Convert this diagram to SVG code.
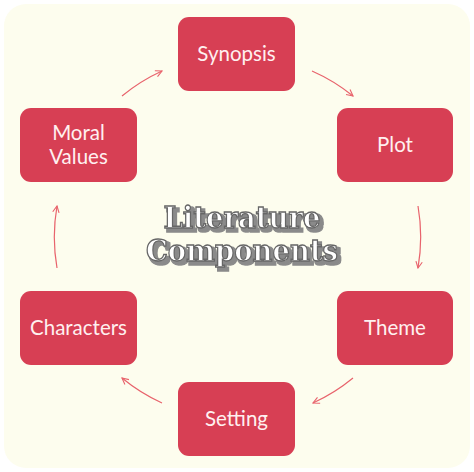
<svg xmlns="http://www.w3.org/2000/svg" width="474" height="472" viewBox="0 0 474 472">
<defs>
<style>
.box{fill:#d73f54;}
.lbl{font-family:Lato,"Open Sans","Noto Sans",sans-serif;font-size:20.5px;fill:#fff0f0;text-anchor:middle;}
.arc{fill:none;stroke:#e8636c;stroke-width:1.2;marker-end:url(#ah);}
.tt{font-family:"DejaVu Serif","Liberation Serif",serif;font-weight:bold;font-size:29px;text-anchor:middle;fill:#ffffff;stroke:#666666;stroke-width:1.3;filter:url(#sh);}
</style>
<filter id="sh" x="-10%" y="-30%" width="130%" height="170%">
<feMorphology in="SourceAlpha" operator="dilate" radius="0.6" result="d"/>
<feOffset in="d" dx="2.5" dy="2.5" result="o"/>
<feFlood flood-color="#8a8a8a"/>
<feComposite in2="o" operator="in" result="s"/>
<feMerge><feMergeNode in="s"/><feMergeNode in="SourceGraphic"/></feMerge>
</filter>
<marker id="ah" viewBox="0 0 10 10" refX="9" refY="5" markerWidth="8" markerHeight="8" orient="auto" markerUnits="userSpaceOnUse">
<path d="M1,1 L9,5 L1,9" fill="none" stroke="#e8636c" stroke-width="1.4"/>
</marker>
</defs>
<rect width="474" height="472" fill="#ffffff"/>
<rect x="4" y="4" width="466" height="464" rx="22" fill="#fdfdee"/>
<g id="connectors">
<path class="arc" d="M312,71 A181,181 0 0 1 353,96"/>
<path class="arc" d="M418,206 A181,181 0 0 1 418,268"/>
<path class="arc" d="M353,378 A181,181 0 0 1 313,403"/>
<path class="arc" d="M162,403 A181,181 0 0 1 122,378"/>
<path class="arc" d="M57,268 A181,181 0 0 1 57,206"/>
<path class="arc" d="M122,96 A181,181 0 0 1 162,71"/>
</g>
<g id="synopsis"><rect class="box" x="178" y="17" width="117" height="74" rx="11"/><text class="lbl" x="236.5" y="61">Synopsis</text></g>
<g id="plot"><rect class="box" x="337" y="108" width="116" height="74" rx="11"/><text class="lbl" x="395" y="152">Plot</text></g>
<g id="theme"><rect class="box" x="337" y="291" width="116" height="74" rx="11"/><text class="lbl" x="395" y="335">Theme</text></g>
<g id="setting"><rect class="box" x="178" y="382" width="117" height="74" rx="11"/><text class="lbl" x="236.5" y="426">Setting</text></g>
<g id="characters"><rect class="box" x="20" y="291" width="117" height="74" rx="11"/><text class="lbl" x="78.5" y="335">Characters</text></g>
<g id="moral-values"><rect class="box" x="20" y="108" width="117" height="74" rx="11"/><text class="lbl" x="78.5" y="140">Moral</text><text class="lbl" x="78.5" y="164">Values</text></g>
<g id="title">
<text class="tt" x="242" y="228" textLength="157" lengthAdjust="spacingAndGlyphs">Literature</text>
<text class="tt" x="242" y="261" textLength="192" lengthAdjust="spacingAndGlyphs">Components</text>
</g>
</svg>
